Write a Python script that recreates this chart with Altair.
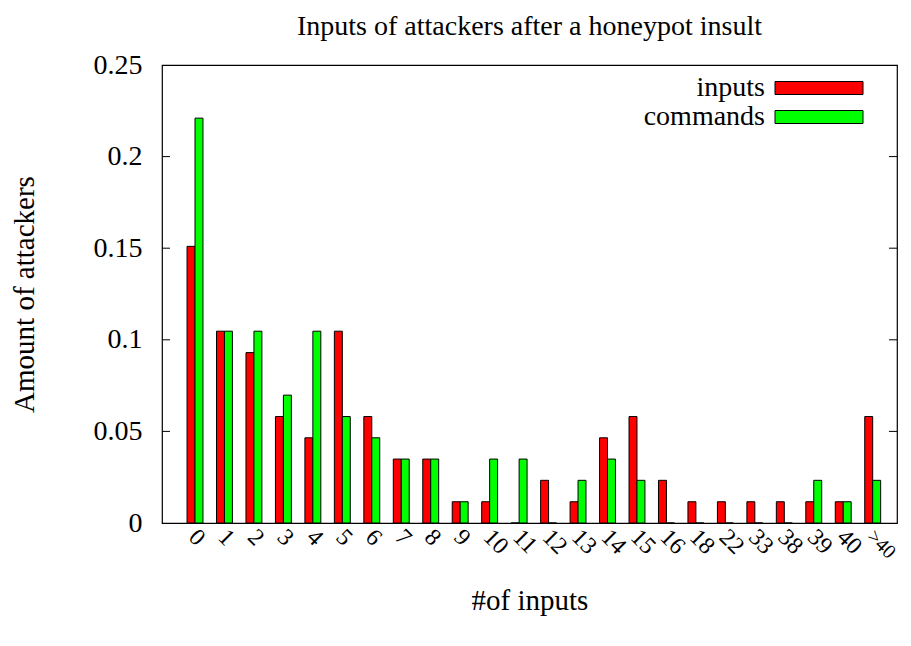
import altair as alt
import pandas as pd

categories = ["0", "1", "2", "3", "4", "5", "6", "7", "8", "9", "10", "11",
              "12", "13", "14", "15", "16", "18", "22", "33", "38", "39", "40", ">40"]
inputs = [0.151, 0.1047, 0.093, 0.0581, 0.0465, 0.1047, 0.0581, 0.0349, 0.0349,
          0.0116, 0.0116, 0.0, 0.0233, 0.0116, 0.0465, 0.0581, 0.0233, 0.0116,
          0.0116, 0.0116, 0.0116, 0.0116, 0.0116, 0.0581]
commands = [0.221, 0.1047, 0.1047, 0.0698, 0.1047, 0.0581, 0.0465, 0.0349, 0.0349,
            0.0116, 0.0349, 0.0349, 0.0, 0.0233, 0.0349, 0.0233, 0.0, 0.0,
            0.0, 0.0, 0.0, 0.0233, 0.0116, 0.0233]
series_names = ["inputs", "commands"]
series_colors = ["#ff0000", "#00ff00"]
y_ticks = [0, 0.05, 0.1, 0.15, 0.2, 0.25]

rows = []
for i, c in enumerate(categories):
    rows.append({"idx": i, "cat": c, "series": "inputs", "value": inputs[i]})
    rows.append({"idx": i, "cat": c, "series": "commands", "value": commands[i]})
df = pd.DataFrame(rows)

FONT = "Liberation Serif"
FS = 29
FS_T = 28
FS_Y = 28
FS_X = 24
FS_L = 28
W, H = 735, 458
BW = 0.27
last_idx = len(categories) - 1

xscale = alt.Scale(domain=[-1.12, 23.825], nice=False, zero=False)
yscale = alt.Scale(domain=[0, 0.25], nice=False, zero=True)

label_js = "[" + ",".join("'%s'" % c for c in categories) + "][datum.value]"

bars = alt.Chart(df).transform_calculate(
    x0=f"datum.series == 'inputs' ? datum.idx - {BW} : datum.idx",
    x1=f"datum.series == 'inputs' ? datum.idx : datum.idx + {BW}",
).mark_rect(stroke="black", strokeWidth=1).encode(
    x=alt.X("x0:Q", scale=xscale, axis=alt.Axis(
        values=list(range(len(categories))), labelExpr=label_js,
        labelAngle=45, labelAlign="left", labelBaseline="middle",
        labelPadding=10, labelOffset=-3, labelOverlap=False, labelFlush=False,
        ticks=False, domain=False, grid=False,
        labelFont=FONT,
        labelFontSize={"condition": {"test": f"datum.value == {last_idx}", "value": 20},
                       "value": FS_X},
        labelColor="black",
        title="#of inputs", titleFont=FONT, titleFontSize=FS,
        titleFontWeight="normal", titleColor="black",
        titleX=W / 2, titleY=77, titleBaseline="middle", titleAlign="center")),
    x2="x1:Q",
    y=alt.Y("value:Q", scale=yscale, axis=alt.Axis(
        values=y_ticks, format=".2~f", ticks=False, domain=False, grid=False,
        labelPadding=20, labelFont=FONT, labelFontSize=FS_Y, labelColor="black",
        labelBaseline="middle",
        title="Amount of attackers", titleFont=FONT, titleFontSize=FS,
        titleFontWeight="normal", titleColor="black", titleAngle=-90,
        titleX=-138, titleY=H / 2, titleBaseline="middle", titleAlign="center")),
    y2=alt.datum(0),
    color=alt.Color("series:N", scale=alt.Scale(domain=series_names, range=series_colors),
                    legend=None),
)

tick_df = pd.DataFrame({"v": y_ticks[1:-1]})
ticks_left = alt.Chart(tick_df).mark_rule(color="black", strokeWidth=1).encode(
    y=alt.Y("v:Q", scale=yscale), x=alt.value(0), x2=alt.value(8))
ticks_right = alt.Chart(tick_df).mark_rule(color="black", strokeWidth=1).encode(
    y=alt.Y("v:Q", scale=yscale), x=alt.value(W - 8), x2=alt.value(W))

one = alt.Data(values=[{"a": 1}])
legend_layers = []
for k, (name, col) in enumerate(zip(series_names, series_colors)):
    cy = 23 + 29 * k
    legend_layers.append(
        alt.Chart(one).mark_rect(fill=col, stroke="black", strokeWidth=1).encode(
            x=alt.value(613), x2=alt.value(701), y=alt.value(cy - 6.5), y2=alt.value(cy + 6.5)))
    legend_layers.append(
        alt.Chart(one).mark_text(text=name, align="right", baseline="middle",
                                 font=FONT, fontSize=FS_L, color="black").encode(
            x=alt.value(603), y=alt.value(cy)))

chart = alt.layer(bars, ticks_left, ticks_right, *legend_layers).properties(
    width=W, height=H,
    title=alt.TitleParams("Inputs of attackers after a honeypot insult", font=FONT,
                          fontSize=FS_T, fontWeight="normal", color="black",
                          anchor="middle", offset=10),
    autosize=alt.AutoSizeParams(type="none"),
    padding={"left": 154, "top": 57, "right": 6, "bottom": 100},
    background="white",
).configure_view(stroke="black", strokeWidth=1.2)

chart.save("out.html", embed_options={"renderer": "svg", "actions": False})
